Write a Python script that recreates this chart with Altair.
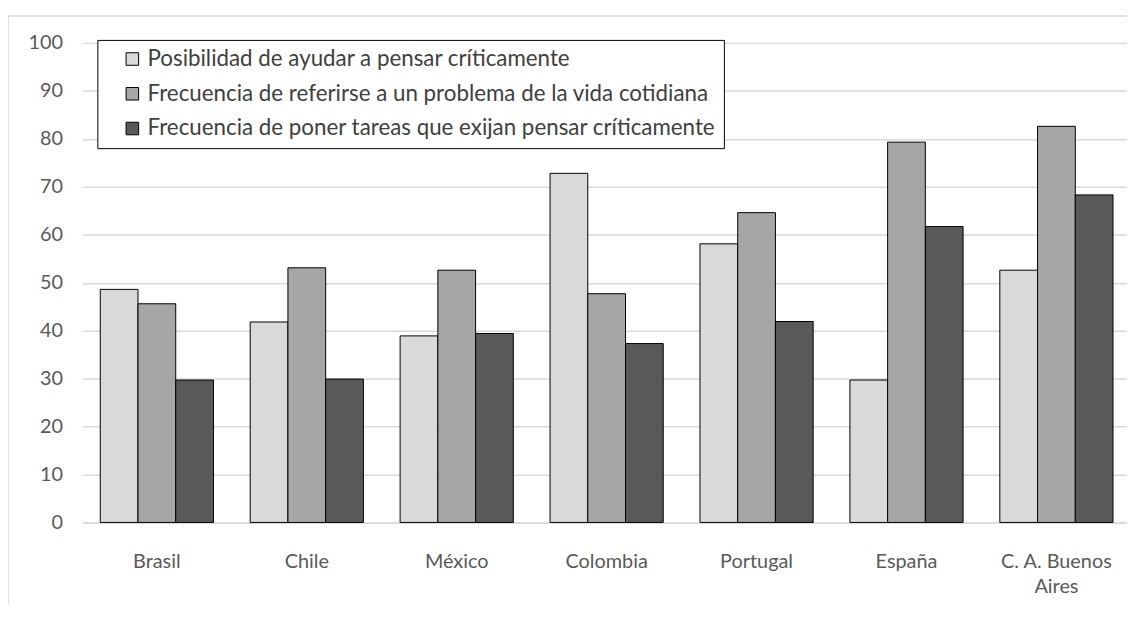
import altair as alt
import pandas as pd

paises = ["Brasil", "Chile", "México", "Colombia", "Portugal", "España", "C. A. Buenos Aires"]
series = [
    "Posibilidad de ayudar a pensar críticamente",
    "Frecuencia de referirse a un problema de la vida cotidiana",
    "Frecuencia de poner tareas que exijan pensar críticamente",
]
posibilidad = [48.6, 41.8, 38.9, 72.8, 58.1, 29.7, 52.6]
referirse = [45.6, 53.1, 52.6, 47.7, 64.6, 79.3, 82.6]
tareas = [29.7, 29.9, 39.4, 37.3, 41.9, 61.7, 68.3]
colores = ["#d9d9d9", "#a6a6a6", "#595959"]
y_ticks = list(range(0, 101, 10))

rows = []
for i, p in enumerate(paises):
    for s, vals in zip(series, [posibilidad, referirse, tareas]):
        rows.append({"pais": p, "serie": s, "valor": vals[i]})
df = pd.DataFrame(rows)

FONT = "Lato"
TXT = "#595959"

bars = alt.Chart(df).mark_bar(stroke="black", strokeWidth=1).encode(
    x=alt.X(
        "pais:N",
        sort=paises,
        title=None,
        scale=alt.Scale(paddingInner=0.245, paddingOuter=0.106, align=0.56),
        axis=alt.Axis(
            labelAngle=0,
            labelFont=FONT,
            labelFontSize=20,
            labelColor=TXT,
            labelPadding=29,
            labelLineHeight=26,
            labelLimit=0,
            ticks=False,
            domain=True,
            domainColor="#d9d9d9",
            domainWidth=1.5,
            labelExpr="datum.value == 'C. A. Buenos Aires' ? ['C. A. Buenos', 'Aires'] : datum.value",
        ),
    ),
    xOffset=alt.XOffset("serie:N", sort=series, scale=alt.Scale(paddingInner=0, paddingOuter=0)),
    y=alt.Y(
        "valor:Q",
        title=None,
        scale=alt.Scale(domain=[0, 100], nice=False),
        axis=alt.Axis(
            values=y_ticks,
            labelFont=FONT,
            labelFontSize=20,
            labelColor=TXT,
            labelPadding=20,
            ticks=False,
            domain=False,
            grid=True,
            gridColor="#d9d9d9",
            gridWidth=1.5,
        ),
    ),
    color=alt.Color(
        "serie:N",
        sort=series,
        scale=alt.Scale(domain=series, range=colores),
        legend=alt.Legend(
            title=None,
            orient="none",
            legendX=15,
            legendY=-3,
            direction="vertical",
            strokeColor="black",
            fillColor="white",
            padding=8,
            labelFont=FONT,
            labelFontSize=22.5,
            labelColor="#404040",
            labelLimit=0,
            labelOffset=4,
            rowPadding=12,
            symbolOffset=16,
            symbolType="square",
            symbolSize=160,
            symbolStrokeColor="black",
            symbolStrokeWidth=1,
            symbolOpacity=1,
        ),
    ),
)

frame_df = pd.DataFrame({"a": [0]})
frame = alt.Chart(frame_df).mark_rect(fill=None, stroke="#d9d9d9", strokeWidth=1.5).encode(
    x=alt.value(-75), x2=alt.value(1200), y=alt.value(-27), y2=alt.value(700)
)

chart = alt.layer(frame, bars).properties(
    width=1052,
    height=483,
    autosize=alt.AutoSizeParams(type="none"),
    padding={"left": 75, "top": 33, "right": 0, "bottom": 80},
).configure_view(stroke=None)

chart.save("out.html", embed_options={"renderer": "svg", "actions": False})
